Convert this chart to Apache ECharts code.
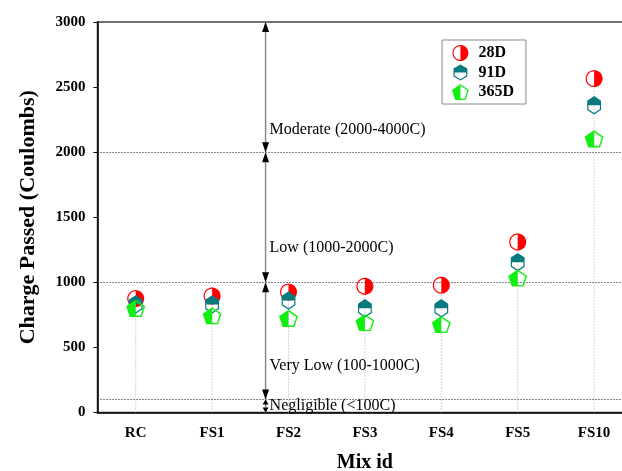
<!DOCTYPE html>
<html><head><meta charset="utf-8">
<script src="https://cdn.jsdelivr.net/npm/echarts@6/dist/echarts.min.js"></script>
<style>html,body{margin:0;padding:0;background:#fff}#c{width:622px;height:471px}</style>
</head><body><div id="c"></div>
<script>
// ---- data ----
const categories = ['RC', 'FS1', 'FS2', 'FS3', 'FS4', 'FS5', 'FS10'];
const charge28D = [875, 895, 925, 970, 978, 1310, 2565];
const charge91D = [830, 830, 860, 800, 800, 1155, 2360];
const charge365D = [800, 743, 723, 691, 676, 1033, 2102];
const yMin = 0, yMax = 3000, yInterval = 500;
const zoneBounds = [0, 100, 1000, 2000, 3000];
const zoneLabels = ['Negligible (<100C)', 'Very Low (100-1000C)', 'Low (1000-2000C)', 'Moderate (2000-4000C)'];
const zoneLabelY = [54, 357, 1263, 2170];
const zoneArrowX = 1.70;
const zoneLines = [100, 1000, 2000];

// ---- symbols (half-filled outlines) ----
function p2s(p){return 'M' + p.map(q => q[0].toFixed(3) + ' ' + q[1].toFixed(3)).join(' L') + ' Z';}
function ring(outer, k){const inner = outer.map(q => [q[0]*k, q[1]*k]).reverse(); return p2s(outer) + ' ' + p2s(inner);}
function regPoly(angles, R){return angles.map(a => [R*Math.cos(a*Math.PI/180), R*Math.sin(a*Math.PI/180)]);}
const circAngles = []; for (let i = 0; i < 48; i++) circAngles.push(i*7.5);
const halfAngles = []; for (let a = -90; a <= 90; a += 7.5) halfAngles.push(a);
const symCircle = 'path://' + ring(regPoly(circAngles, 10), 0.86) + ' ' + p2s(regPoly(halfAngles, 10));
const hexOuter = regPoly([-90, -30, 30, 90, 150, 210], 10);
const symHex = 'path://' + ring(hexOuter, 0.83) + ' ' + p2s([[-8.660,0],[-8.660,-5],[0,-10],[8.660,-5],[8.660,0]]);
const pentOuter = regPoly([-90, -18, 54, 126, 198], 10);
const symPent = 'path://' + ring(pentOuter, 0.82) + ' ' + p2s([[0,8.090],[-5.878,8.090],[-9.511,-3.090],[0,-10]]);

const serif = 'Liberation Serif';
const chart = echarts.init(document.getElementById('c'), null, {renderer: 'canvas'});

const dropData = categories.map((c, i) => [i, Math.max(charge28D[i], charge91D[i], charge365D[i])]);

chart.setOption({
  animation: false,
  backgroundColor: '#fff',
  grid: {left: 97.5, top: 22, width: 534.8, height: 390.5, show: true, borderColor: '#444', borderWidth: 1.5,
    backgroundColor: 'transparent', containLabel: false, outerBoundsMode: 'none'},
  legend: {
    data: ['28D', '91D', '365D'], orient: 'vertical', left: 442, top: 40,
    padding: [5, 12, 4, 10], itemWidth: 26, itemHeight: 16, itemGap: 3.5,
    borderColor: '#888', borderWidth: 1, backgroundColor: '#fff',
    textStyle: {fontFamily: serif, fontWeight: 'bold', fontSize: 16, color: '#000'}
  },
  xAxis: [{
    type: 'category', data: categories, boundaryGap: true,
    axisLine: {lineStyle: {color: '#000', width: 1.5}}, axisTick: {show: false},
    axisLabel: {fontFamily: serif, fontWeight: 'bold', fontSize: 15, color: '#000', margin: 13},
    name: 'Mix id', nameLocation: 'middle', nameGap: 40,
    nameTextStyle: {fontFamily: serif, fontWeight: 'bold', fontSize: 20, color: '#000'}
  }, {
    type: 'value', min: -0.5, max: 6.5, show: false
  }],
  yAxis: {
    type: 'value', min: yMin, max: yMax, interval: yInterval,
    axisLine: {show: true, onZero: false, lineStyle: {color: '#000', width: 1.5}},
    axisTick: {show: true, length: 4, lineStyle: {color: '#000'}},
    splitLine: {show: false},
    axisLabel: {fontFamily: serif, fontWeight: 'bold', fontSize: 15, color: '#000', margin: 12, formatter: v => String(v)},
    name: 'Charge Passed (Coulombs)', nameLocation: 'middle', nameGap: 58, nameRotate: 90,
    nameTextStyle: {fontFamily: serif, fontWeight: 'bold', fontSize: 22, color: '#000'}
  },
  series: [
    {
      type: 'custom', xAxisIndex: 0, silent: true, z: 1,
      data: dropData,
      renderItem(params, api) {
        const p0 = api.coord([api.value(0), 0]);
        const p1 = api.coord([api.value(0), api.value(1)]);
        return {type: 'line', shape: {x1: p0[0], y1: p0[1], x2: p1[0], y2: p1[1]},
          style: {stroke: '#b0b0b0', lineWidth: 1, lineDash: [1, 2]}};
      }
    },
    {
      type: 'custom', xAxisIndex: 1, silent: true, z: 1,
      data: zoneLines.map(v => [v]),
      renderItem(params, api) {
        const p0 = api.coord([-0.5, api.value(0)]);
        const p1 = api.coord([6.5, api.value(0)]);
        return {type: 'line', shape: {x1: p0[0], y1: Math.round(p0[1]) + 0.5, x2: p1[0], y2: Math.round(p1[1]) + 0.5},
          style: {stroke: '#111', lineWidth: 1, lineDash: [1, 2]}};
      }
    },
    {
      type: 'custom', xAxisIndex: 1, silent: true, z: 2,
      data: zoneBounds.slice(0, -1).map((b, i) => [zoneArrowX, b, zoneBounds[i + 1]]),
      renderItem(params, api) {
        const p0 = api.coord([api.value(0), api.value(1)]);
        const p1 = api.coord([api.value(0), api.value(2)]);
        const len = p0[1] - p1[1];
        const h = len < 30 ? 5 : 10, w = len < 30 ? 3 : 3.5;
        return {type: 'group', children: [
          {type: 'line', shape: {x1: p0[0], y1: p0[1], x2: p1[0], y2: p1[1]}, style: {stroke: '#8a8a8a', lineWidth: 1.5}},
          {type: 'polygon', shape: {points: [[p1[0], p1[1]], [p1[0] - w, p1[1] + h], [p1[0] + w, p1[1] + h]]}, style: {fill: '#000'}},
          {type: 'polygon', shape: {points: [[p0[0], p0[1]], [p0[0] - w, p0[1] - h], [p0[0] + w, p0[1] - h]]}, style: {fill: '#000'}}
        ]};
      }
    },
    {
      type: 'custom', xAxisIndex: 1, silent: true, z: 3,
      data: zoneLabels.map((t, i) => [zoneArrowX, zoneLabelY[i]]),
      renderItem(params, api) {
        const p = api.coord([api.value(0), api.value(1)]);
        return {type: 'text', x: p[0] + 4, y: p[1],
          style: {text: zoneLabels[params.dataIndex], fill: '#000', font: '16px "Liberation Serif"', textAlign: 'left', textVerticalAlign: 'middle'}};
      }
    },
    {name: '28D', type: 'scatter', xAxisIndex: 0, z: 4, symbol: symCircle, symbolSize: [17, 17], symbolKeepAspect: true,
      itemStyle: {color: '#ff0000', opacity: 1}, data: charge28D},
    {name: '91D', type: 'scatter', xAxisIndex: 0, z: 5, symbol: symHex, symbolSize: [16, 18.5], symbolKeepAspect: true,
      itemStyle: {color: '#087a7d', opacity: 1}, data: charge91D},
    {name: '365D', type: 'scatter', xAxisIndex: 0, z: 6, symbol: symPent, symbolSize: [19, 18], symbolKeepAspect: true,
      itemStyle: {color: '#11ee11', opacity: 1}, data: charge365D}
  ]
});
</script>
</body></html>
